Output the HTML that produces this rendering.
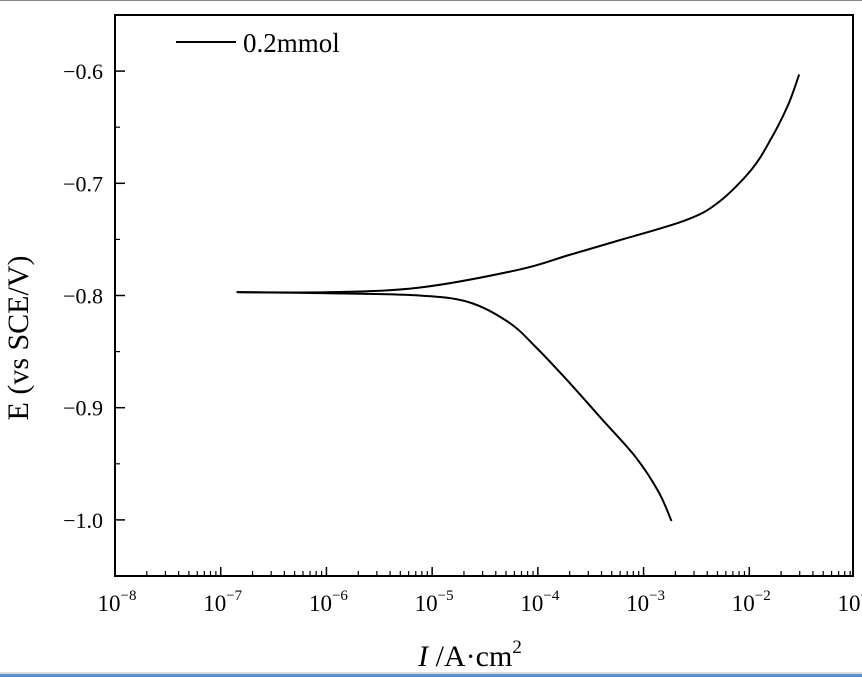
<!DOCTYPE html>
<html><head><meta charset="utf-8"><style>
html,body{margin:0;padding:0;background:#fff;}
svg{display:block;font-family:"Liberation Serif","Times New Roman",serif;}
</style></head><body>
<svg id="chart" width="862" height="677" viewBox="0 0 862 677">
<rect x="0" y="0" width="862" height="1" fill="#888"/>
<rect x="0" y="672" width="862" height="2" fill="#ddd"/>
<rect x="0" y="674" width="862" height="3" fill="#5b8fd0"/>
<g id="axes"></g>
<g id="plot"></g>
<line x1="176" y1="42" x2="236" y2="42" stroke="#000" stroke-width="2"/>
<text x="243" y="52" font-size="27">0.2mmol</text>
<text transform="translate(28,338) rotate(-90)" text-anchor="middle" font-size="30">E (vs SCE/V)</text>
<text x="470" y="666" text-anchor="middle" font-size="30"><tspan font-style="italic">I</tspan> /A·cm<tspan font-size="19" dy="-13">2</tspan></text>
</svg>
<script>
const xTickExps = [-8,-7,-6,-5,-4,-3,-2,-1];
const yTicks = [-0.6,-0.7,-0.8,-0.9,-1.0];
const yTickLabels = ["\u22120.6","\u22120.7","\u22120.8","\u22120.9","\u22121.0"];
const anodicLogI = [-6.849,-5.972,-5.123,-4.179,-3.708,-3.236,-2.604,-2.292,-1.981,-1.792,-1.632,-1.528];
const anodicE = [-0.797,-0.797,-0.793,-0.777,-0.764,-0.751,-0.733,-0.717,-0.688,-0.660,-0.630,-0.603];
const cathodicLogI = [-6.849,-5.972,-5.123,-4.651,-4.274,-4.019,-3.708,-3.396,-3.075,-2.858,-2.736];
const cathodicE = [-0.797,-0.798,-0.800,-0.806,-0.824,-0.846,-0.877,-0.910,-0.944,-0.975,-1.001];

const L=115,R=853,T=15,B=576;
const xMin=-8,xMax=-1.0189,yMin=-1.05,yMax=-0.55;
function sx(v){return L+(v-xMin)/(xMax-xMin)*(R-L);}
function sy(v){return B-(v-yMin)/(yMax-yMin)*(B-T);}
const NS="http://www.w3.org/2000/svg";
const axes=document.getElementById('axes'), plot=document.getElementById('plot');
function mk(tag,attrs,parent){const e=document.createElementNS(NS,tag);for(const k in attrs)e.setAttribute(k,attrs[k]);parent.appendChild(e);return e;}

const frame=mk('rect',{x:L,y:T,width:R-L,height:B-T,fill:'none',stroke:'#000','stroke-width':2},axes);



xTickExps.forEach(ex=>{
  const x=sx(ex);
  if(x<=R+1){
    const t=mk('line',{x1:x,y1:B,x2:x,y2:B-9,stroke:'#000','stroke-width':1.5},axes);
    
    
  }
  if(ex<-1){for(let m=2;m<=9;m++){const xm=sx(ex+Math.log10(m));
    const mt=mk('line',{x1:xm,y1:B,x2:xm,y2:B-5,stroke:'#000','stroke-width':1.2},axes);
    
    }}
  const lab=mk('text',{x:x+2,y:611,'text-anchor':'middle','font-size':23},axes);
  
  
  lab.innerHTML='10<tspan font-size="15" dy="-11">\u2212'+(-ex)+'</tspan>';
});

yTicks.forEach((v,i)=>{
  const y=sy(v);
  const t=mk('line',{x1:L,y1:y,x2:L+10,y2:y,stroke:'#000','stroke-width':1.5},axes);
  
  
  const lab=mk('text',{x:103,y:y+8,'text-anchor':'end','font-size':22},axes);
  
  
  lab.textContent=yTickLabels[i];
  const ym=sy(v+0.05);
  const mt=mk('line',{x1:L,y1:ym,x2:L+5,y2:ym,stroke:'#000','stroke-width':1.2},axes);
  
  
});

function smooth(xs,ys){
  const p=xs.map((v,i)=>[sx(v),sy(ys[i])]);
  let d='M'+p[0][0]+','+p[0][1];
  for(let i=0;i<p.length-1;i++){
    const p0=p[Math.max(i-1,0)],p1=p[i],p2=p[i+1],p3=p[Math.min(i+2,p.length-1)];
    const c1=[p1[0]+(p2[0]-p0[0])/6,p1[1]+(p2[1]-p0[1])/6];
    const c2=[p2[0]-(p3[0]-p1[0])/6,p2[1]-(p3[1]-p1[1])/6];
    d+=' C'+c1[0]+','+c1[1]+' '+c2[0]+','+c2[1]+' '+p2[0]+','+p2[1];
  }
  return d;
}
const a=mk('path',{d:smooth(anodicLogI,anodicE),fill:'none',stroke:'#000','stroke-width':2},plot);


const c=mk('path',{d:smooth(cathodicLogI,cathodicE),fill:'none',stroke:'#000','stroke-width':2},plot);


</script>
</body></html>
